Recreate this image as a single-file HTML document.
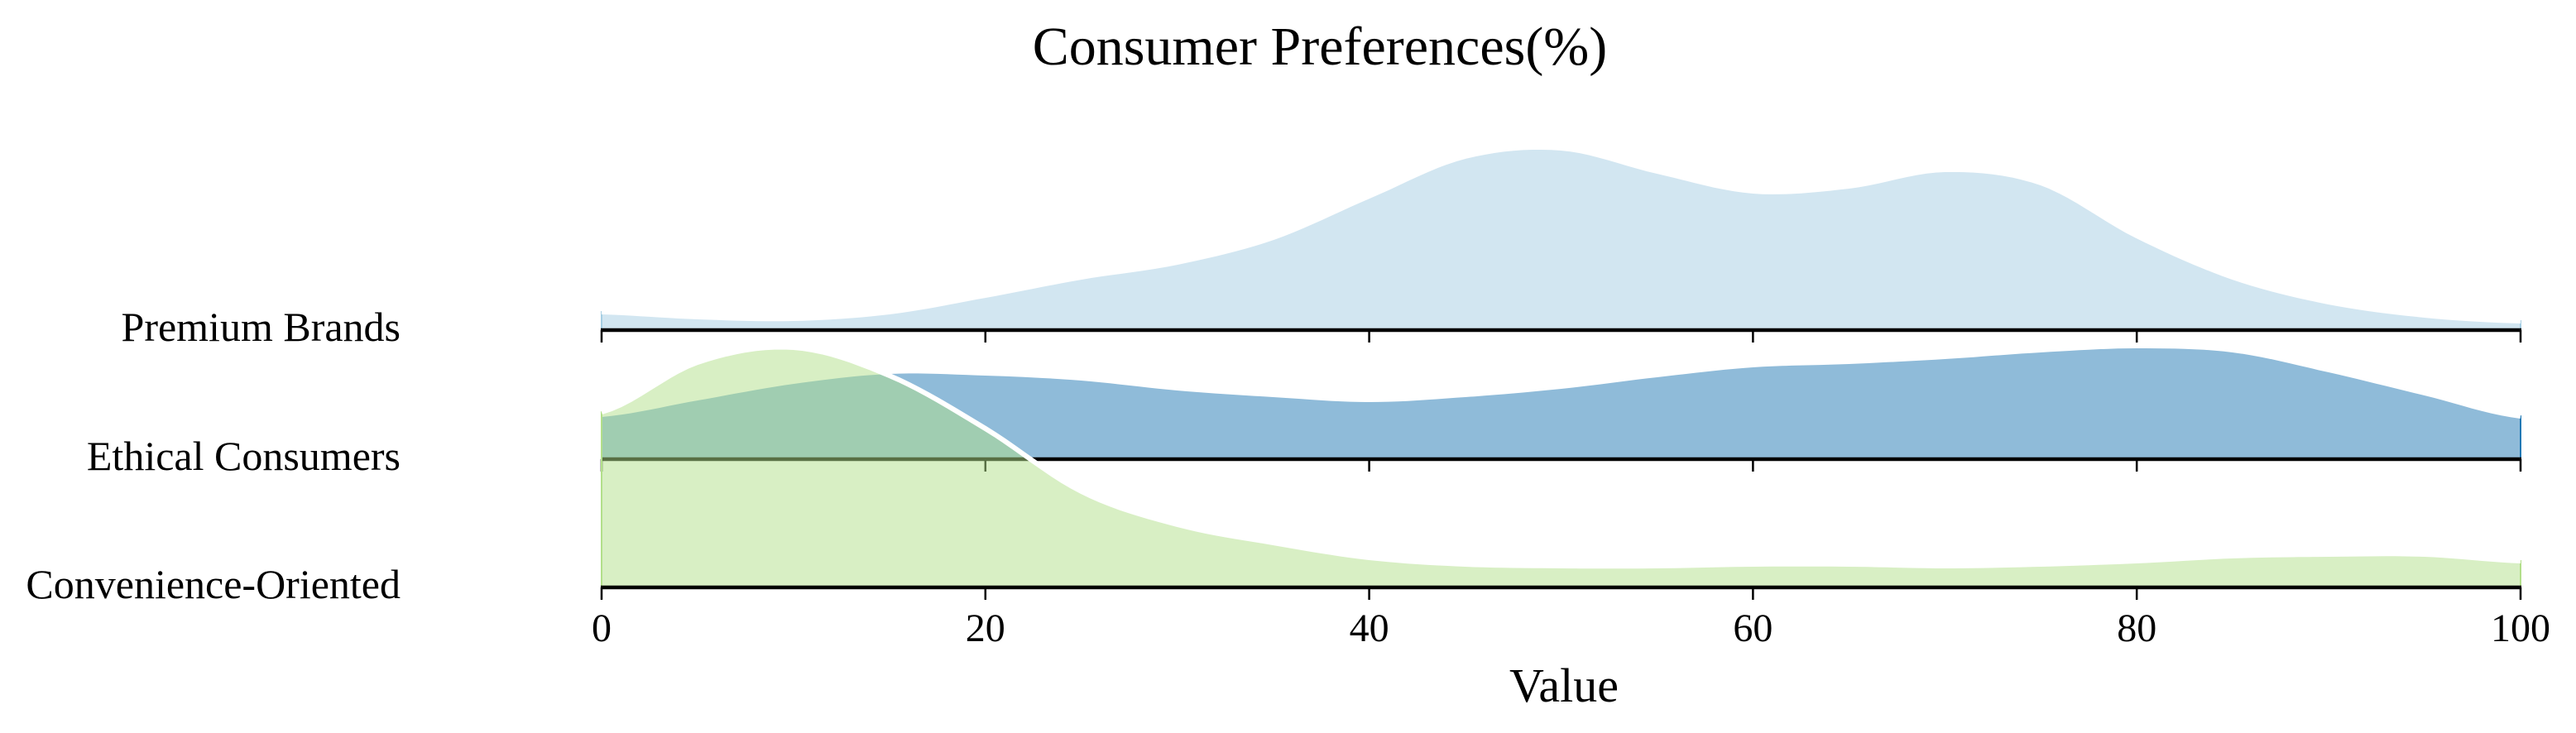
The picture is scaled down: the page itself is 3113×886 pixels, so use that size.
<!DOCTYPE html>
<html><head><meta charset="utf-8"><style>
html,body{margin:0;padding:0;background:#fff;}
svg{display:block;font-family:"Liberation Serif","DejaVu Serif",serif;}
</style></head><body>
<svg id="chart" width="3113" height="886" viewBox="0 0 3113 886" xmlns="http://www.w3.org/2000/svg">
<text x="1595" y="78" font-size="66" text-anchor="middle">Consumer Preferences(%)</text>
<g id="plot"></g>
<text x="1890" y="848" font-size="58" text-anchor="middle">Value</text>
</svg>
<script>
const categories = ["Premium Brands", "Ethical Consumers", "Convenience-Oriented"];
const xGrid = [0,5,10,15,20,25,30,35,40,45,50,55,60,65,70,75,80,85,90,95,100];
const premiumValues = [11,8,7,11,21,32,41,56,81,105,110,96,84,87,97,89,57,32,17,9,5.5];
const ethicalValues = [27,37,47,53,52,49,43,39,36,39,44,51,57,59,62,66,68.5,66,54,40,26];
const convenienceValues = [106,136,145,128,96,58,38,27,18,14,13,13,14,14,13,14,16,19,20,20,16];
const tickValues = [0,20,40,60,80,100];
const tickLabels = ["0","20","40","60","80","100"];

const NS = "http://www.w3.org/2000/svg";
const X0 = 727, X1 = 3046;
const baselines = [399, 555, 710];
const fills = ["#a6cee3", "#1f78b4", "#b2df8a"];
const seriesList = [premiumValues, ethicalValues, convenienceValues];
const xScale = v => X0 + (v / 100) * (X1 - X0);
const yScale = (v, base) => base - v * 2;

function smooth(xs, ys) {
  const pts = [];
  for (let i = 0; i < xs.length - 1; i++) {
    const p0 = ys[Math.max(i - 1, 0)], p1 = ys[i], p2 = ys[i + 1], p3 = ys[Math.min(i + 2, ys.length - 1)];
    for (let t = 0; t < 1; t += 0.1) {
      const t2 = t * t, t3 = t2 * t;
      const y = 0.5 * ((2 * p1) + (-p0 + p2) * t + (2 * p0 - 5 * p1 + 4 * p2 - p3) * t2 + (-p0 + 3 * p1 - 3 * p2 + p3) * t3);
      pts.push([xs[i] + (xs[i + 1] - xs[i]) * t, Math.max(0, y)]);
    }
  }
  pts.push([xs[xs.length - 1], ys[ys.length - 1]]);
  return pts;
}

const plot = document.getElementById("plot");
seriesList.forEach((vals, i) => {
  const base = baselines[i];
  const pts = smooth(xGrid, vals);
  const top = pts.map(p => xScale(p[0]).toFixed(1) + "," + yScale(p[1], base).toFixed(1));
  const area = document.createElementNS(NS, "path");
  area.setAttribute("d", "M" + xScale(0) + "," + base + " L" + top.join(" L") + " L" + xScale(100) + "," + base + " Z");
  area.setAttribute("fill", fills[i]);
  area.setAttribute("fill-opacity", "0.5");
  area.setAttribute("stroke", fills[i]);
  area.setAttribute("stroke-width", "2");
  
  
  plot.appendChild(area);
  const line = document.createElementNS(NS, "polyline");
  line.setAttribute("points", top.join(" "));
  line.setAttribute("fill", "none");
  line.setAttribute("stroke", "#fff");
  line.setAttribute("stroke-width", "6");
  
  
  plot.appendChild(line);
  const axis = document.createElementNS(NS, "line");
  axis.setAttribute("x1", X0 - 1); axis.setAttribute("x2", X1 + 1);
  axis.setAttribute("y1", base); axis.setAttribute("y2", base);
  axis.setAttribute("stroke", "#000"); axis.setAttribute("stroke-width", "4.5");
  
  
  plot.appendChild(axis);
  tickValues.forEach(tv => {
    const tk = document.createElementNS(NS, "line");
    tk.setAttribute("x1", xScale(tv)); tk.setAttribute("x2", xScale(tv));
    tk.setAttribute("y1", base); tk.setAttribute("y2", base + 15);
    tk.setAttribute("stroke", "#000"); tk.setAttribute("stroke-width", "2.5");
    
    
    plot.appendChild(tk);
  });
  const lbl = document.createElementNS(NS, "text");
  lbl.setAttribute("x", 484); lbl.setAttribute("y", base + 13);
  lbl.setAttribute("font-size", "50"); lbl.setAttribute("text-anchor", "end");
  lbl.textContent = categories[i];
  
  
  plot.appendChild(lbl);
});
tickValues.forEach((tv, j) => {
  const t = document.createElementNS(NS, "text");
  t.setAttribute("x", xScale(tv)); t.setAttribute("y", 775);
  t.setAttribute("font-size", "48"); t.setAttribute("text-anchor", "middle");
  t.textContent = tickLabels[j];
  
  
  plot.appendChild(t);
});
</script>
</body></html>
